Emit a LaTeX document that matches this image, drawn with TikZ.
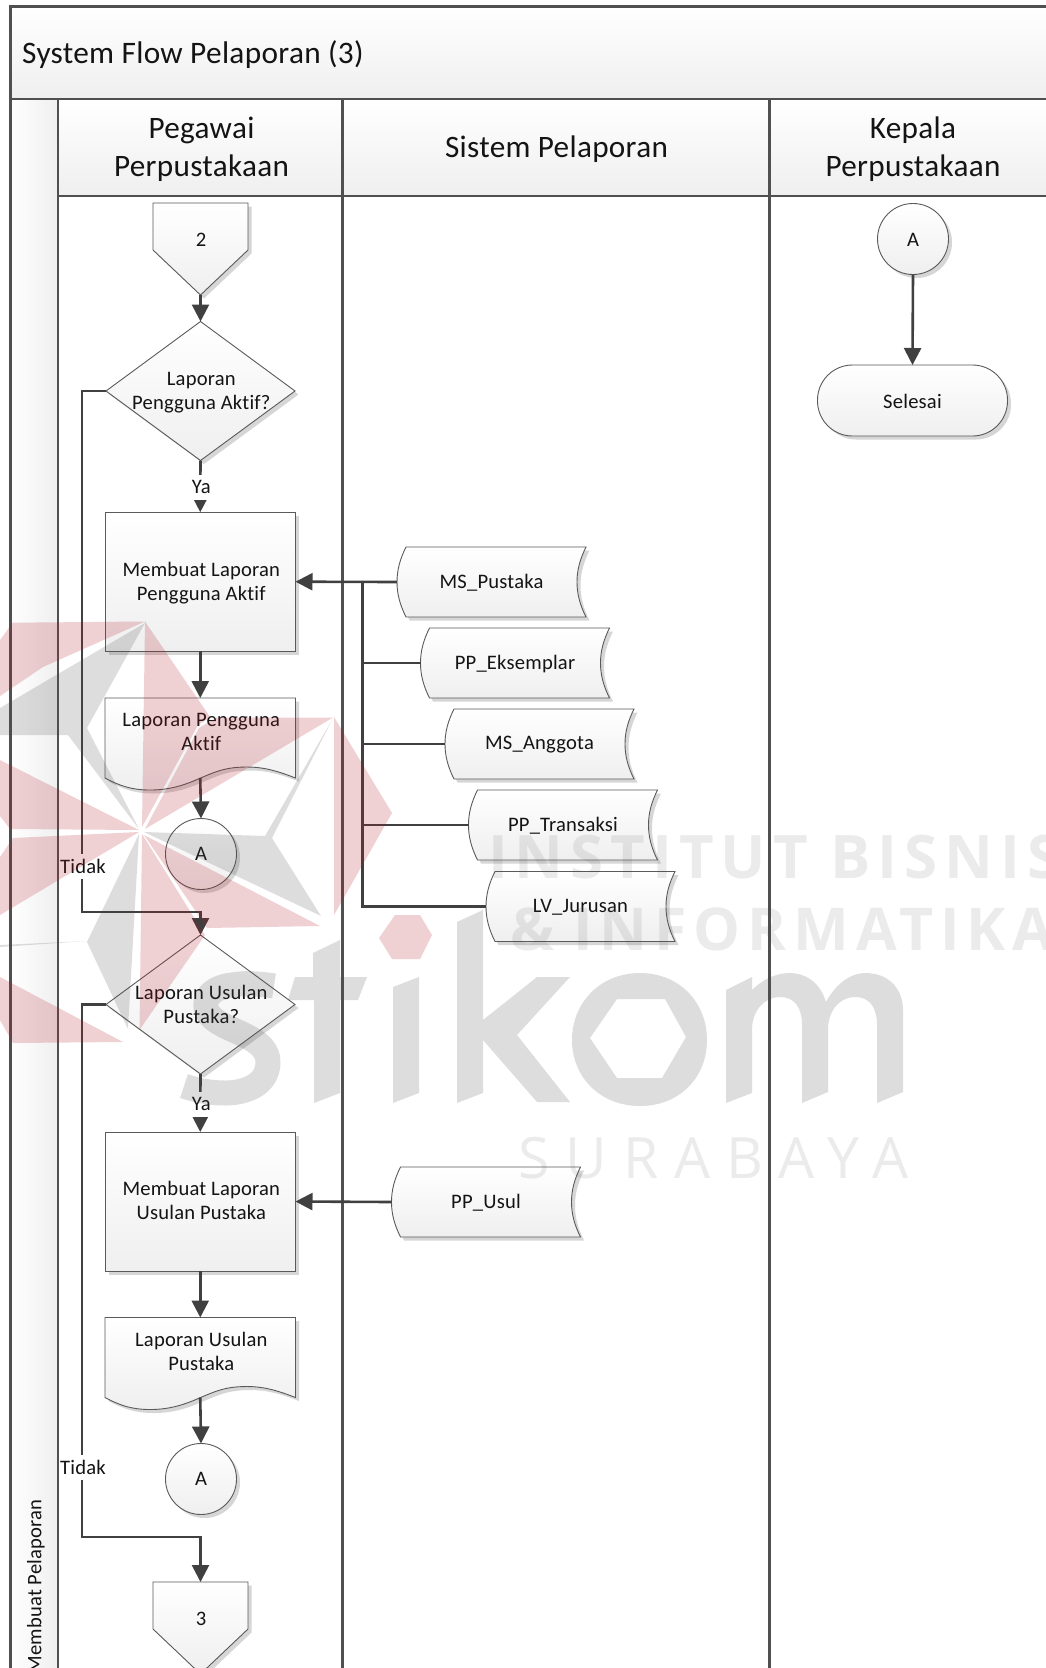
\documentclass[tikz,border=0pt]{standalone}
\usepackage{fontspec}
\setmainfont[Ligatures=NoCommon,LetterSpace=1]{Carlito}
\newfontfamily\wmbold[LetterSpace=11.6]{Open Sans Bold}
\newfontfamily\wmthin[LetterSpace=28.3]{Open Sans}
\usetikzlibrary{shapes.geometric,arrows.meta,shadows}
\definecolor{lanecol}{HTML}{505050}
\definecolor{nodeline}{HTML}{5A5A5A}
\definecolor{conncol}{HTML}{404040}
\definecolor{shadecol}{HTML}{EFEFEF}
\definecolor{wmred}{rgb}{0.70,0.10,0.16}
\definecolor{wmgray}{rgb}{0.30,0.30,0.30}
\tikzset{
  lanebar/.style={draw=lanecol,line width=2.2pt,top color=white,bottom color=shadecol,inner sep=0pt,outer sep=0pt},
  headtext/.style={inner sep=0pt,outer sep=0pt,font=\fontsize{31.2}{37.8}\selectfont,align=center,text=black!92},
  laneline/.style={draw=lanecol,line width=2.2pt},
  softshadow/.style={general shadow={shadow xshift=3.5pt,shadow yshift=-3.5pt,fill=black!16}},
  nodebody/.style={draw=nodeline,line width=0.9pt,top color=white,bottom color=shadecol,softshadow},
  shapebox/.style={inner sep=0pt,outer sep=0pt},
  plainbox/.style={inner sep=0pt,outer sep=0pt,font=\fontsize{20.6}{24.4}\selectfont,align=center,text=black!92},
  procbox/.style={shapebox,nodebody,rectangle,minimum width=190.5pt,minimum height=139pt},
  decbox/.style={shapebox,nodebody,diamond,aspect=1.36,minimum width=189pt,minimum height=139pt},
  connbox/.style={shapebox,nodebody,circle,minimum size=71pt},
  termbox/.style={shapebox,nodebody,rectangle,rounded corners=35pt,minimum width=190pt,minimum height=71pt},
  conn/.style={draw=conncol,line width=2.6pt},
  flowarrow/.style={conn,-{Triangle[length=17pt,width=17pt]}},
  edgelabel/.style={fill=white,inner sep=1pt,outer sep=0pt,minimum height=25pt,font=\fontsize{20.6}{24}\selectfont,text=black!92},
  wmr/.style={fill=wmred,fill opacity=.2,draw=none},
  wmg/.style={fill=wmgray,fill opacity=.19,draw=none}
}
\newcommand{\dstore}[4]{%
  \path[nodebody] ({#2+9},#3) -- ({#2+189},#3)
    .. controls ({#2+183},{#3+12}) and ({#2+180},{#3+23}) .. ({#2+180},{#3+35})
    .. controls ({#2+180},{#3+47}) and ({#2+183},{#3+58}) .. ({#2+189},{#3+70})
    -- ({#2+9},{#3+70})
    .. controls ({#2+3},{#3+58}) and (#2,{#3+47}) .. (#2,{#3+35})
    .. controls (#2,{#3+23}) and ({#2+3},{#3+12}) .. ({#2+9},#3) -- cycle;
  \node[shapebox,minimum width=189pt,minimum height=70pt] (#1) at ({#2+94.5},{#3+35}) {};
  \node[plainbox] (#1t) at ({#2+94.5},{#3+36}) {#4};}
\newcommand{\docshape}[3]{%
  \path[nodebody] (105,#2) -- (295.5,#2) -- (295.5,{#2+80})
    .. controls (275,{#2+72}) and (262,{#2+69}) .. (247,{#2+69})
    .. controls (225,{#2+69}) and (215,{#2+74}) .. (200.5,{#2+80})
    .. controls (185,{#2+87}) and (170,{#2+92}) .. (150,{#2+92})
    .. controls (132,{#2+92}) and (120,{#2+88}) .. (105,{#2+80}) -- cycle;
  \node[shapebox,minimum width=190.5pt,minimum height=80pt] (#1) at (200.25,{#2+40}) {};
  \node[plainbox] (#1t) at (201.3,{#2+34}) {#3};}
\newcommand{\offpage}[3]{%
  \path[nodebody] (153,#2) -- (248,#2) -- (248,{#2+47}) -- (200.5,{#2+92}) -- (153,{#2+47}) -- cycle;
  \node[shapebox,minimum width=95pt,minimum height=92pt] (#1) at (200.5,{#2+46}) {};
  \node[plainbox] (#1t) at (201,{#2+36.5}) {#3};}
\begin{document}
\begin{tikzpicture}[x=1pt,y=-1pt]
\useasboundingbox (0,0) rectangle (1046,1668);
\clip (0,0) rectangle (1046,1668);
\fill[white] (0,0) rectangle (1046,1668);
% pool
\path[draw=lanecol,line width=2.2pt,left color=white,right color=shadecol] (10.5,99) rectangle (58,1690);
\node[lanebar,anchor=north west,minimum width=1060pt,minimum height=92.5pt] (pool) at (10.5,6.5) {};
\node[anchor=west,inner sep=0pt,font=\fontsize{31.3}{37}\selectfont,text=black!92] (title) at (22,55) {System Flow Pelaporan (3)};
\node[lanebar,anchor=north west,minimum width=284.5pt,minimum height=97pt] (laneA) at (58,99) {};
\node[headtext] (laneAt) at (201.5,149.5) {Pegawai\\Perpustakaan};
\node[lanebar,anchor=north west,minimum width=427pt,minimum height=97pt] (laneB) at (342.5,99) {};
\node[headtext] (laneBt) at (556.5,149.5) {Sistem Pelaporan};
\node[lanebar,anchor=north west,minimum width=300pt,minimum height=97pt] (laneC) at (769.5,99) {};
\node[headtext] (laneCt) at (913,149.5) {Kepala\\Perpustakaan};
\draw[laneline] (laneA.south east) -- (342.5,1690);
\draw[laneline] (laneB.south east) -- (769.5,1690);
\draw[laneline] (58,196) -- (58,1690);
\node[rotate=90,anchor=east,inner sep=0pt,font=\fontsize{20.6}{24}\selectfont,text=black!92] (poolname) at (36,1499) {Membuat Pelaporan};
% nodes
\offpage{offA}{203}{2}
\node[decbox] (dec1) at (200.5,391) {};
\node[plainbox] (dec1t) at (201.3,392.6) {Laporan\\Pengguna Aktif?};
\node[procbox] (proc1) at (200.25,581.7) {};
\node[plainbox] (proc1t) at (201.3,583.3) {Membuat Laporan\\Pengguna Aktif};
\docshape{doc1}{698}{Laporan Pengguna\\Aktif}
\node[connbox] (conA1) at (201,854) {};
\node[plainbox] (conA1t) at (201,854) {A};
\node[decbox] (dec2) at (200.5,1004.5) {};
\node[plainbox] (dec2t) at (201.3,1004.3) {Laporan Usulan\\Pustaka?};
\node[procbox] (proc2) at (200.25,1201.5) {};
\node[plainbox] (proc2t) at (201.3,1200.6) {Membuat Laporan\\Usulan Pustaka};
\docshape{doc2}{1317.5}{Laporan Usulan\\Pustaka}
\node[connbox] (conA2) at (201,1479) {};
\node[plainbox] (conA2t) at (201,1479) {A};
\offpage{offB}{1582}{3}
\node[connbox] (conA3) at (913,239) {};
\node[plainbox] (conA3t) at (913,239.4) {A};
\node[termbox] (stop) at (912.5,400.5) {};
\node[plainbox] (stopt) at (912.5,401.5) {Selesai};
\dstore{ms1}{397}{547}{MS\_Pustaka}
\dstore{ms2}{420.5}{628}{PP\_Eksemplar}
\dstore{ms3}{445}{709}{MS\_Anggota}
\dstore{ms4}{468.5}{790}{PP\_Transaksi}
\dstore{ms5}{486}{871.5}{LV\_Jurusan}
\dstore{ms6}{391.5}{1167}{PP\_Usul}
% connectors
\coordinate (bus) at (362.5,582);
\coordinate (bendA) at (82,912);
\coordinate (bendB) at (82,1537);
\draw[flowarrow] (offA.south) -- (dec1.north);
\draw[flowarrow] (dec1.south) -- node[edgelabel,xshift=1pt,yshift=-1pt] (ya1) {Ya} (proc1.north);
\draw[flowarrow] (proc1.south) -- (doc1.north);
\draw[flowarrow] (doc1.south) -- (conA1.north);
\draw[flowarrow] (dec1.west) -| (bendA) -| (dec2.north);
\node[edgelabel] (tidak1) at (83,866) {Tidak};
\draw[flowarrow] (dec2.south) -- node[edgelabel,xshift=1pt,yshift=-1pt] (ya2) {Ya} (proc2.north);
\draw[flowarrow] (proc2.south) -- (doc2.north);
\draw[flowarrow] (doc2.south) -- (conA2.north);
\draw[flowarrow] (dec2.west) -| (bendB) -| (offB.north);
\node[edgelabel] (tidak2) at (83,1467) {Tidak};
\draw[flowarrow] (ms1.west) -- (proc1.east);
\draw[flowarrow] (ms6.west) -- (proc2.east);
\draw[conn] (ms2.west) -- (ms2.west -| bus);
\draw[conn] (ms3.west) -- (ms3.west -| bus);
\draw[conn] (ms4.west) -- (ms4.west -| bus);
\draw[conn] (ms5.west) -| (bus);
\draw[flowarrow] (conA3.south) -- (stop.north);
% watermark
\fill[wmr] (145,621.5) -- (12.7,622.7) -- (0,640) -- (0,696) -- (43,667) -- cycle;
\fill[wmg] (145,623) -- (0,708) -- (0,735) -- (68,735) -- (139,829) -- (87,728) -- cycle;
\fill[wmr] (139,830) -- (0,760) -- (0,816) -- (10,829) -- cycle;
\fill[wmr] (139,832) -- (13,838) -- (0,857) -- (0,915) -- cycle;
\fill[wmg] (139,834) -- (87,942) -- (128,1029) -- cycle;
\fill[wmg] (87,941) -- (0,945) -- (0,947) -- cycle;
\fill[wmr] (142,834) -- (139.5,1030) -- (205,935) -- cycle;
\fill[wmr] (144,835) -- (207,928) -- (320,926) -- cycle;
\fill[wmg] (144,832) -- (265,836) -- (332,720) -- (272,838) -- (321,916) -- cycle;
\fill[wmr] (145,829) -- (333,717.5) -- (217,717.5) -- (199,728) -- cycle;
\fill[wmr] (145,621.5) -- (142,827) -- (198,725) -- (210,717) -- cycle;
\fill[wmr] (334,717) -- (392,813) -- (334,915) -- cycle;
\fill[wmr] (0,977) -- (123,1042) -- (13,1043) -- (0,1020) -- cycle;
\fill[wmr] (395,915) -- (420,915) -- (432,935) -- (420,959) -- (392,959) -- (379,938) -- cycle;
% stikom
\draw[draw=wmgray,draw opacity=.19,line width=25pt,line cap=butt,line join=round]
  (274,986) .. controls (255,983) and (245,983) .. (232,985) .. controls (205,988) and (198,1008) .. (215,1020)
  .. controls (230,1032) and (268,1038) .. (268,1062) .. controls (268,1085) and (245,1093) .. (225,1093)
  .. controls (212,1093) and (198,1091) .. (184,1086);
\fill[wmg] (313,953) -- (340,940) -- (340,977) -- (367,977) -- (358,1000) -- (340,1000) -- (340,1093) -- (314,1103) -- (314,1000) -- (288,1000) -- (295,977) -- (313,977) -- cycle;
\fill[wmg] (393,987) -- (419,977) -- (419,1093) -- (393,1103) -- cycle;
\fill[wmg] (457,922) -- (483,910) -- (483,1020) -- (537,977) -- (570,977) -- (517,1035) -- (570,1102) -- (537,1102) -- (483,1040) -- (483,1093) -- (457,1103) -- cycle;
\fill[wmg,even odd rule] (640,973) .. controls (680,973) and (707,1003) .. (707,1040) .. controls (707,1077) and (680,1106) .. (640,1106) .. controls (600,1106) and (572,1077) .. (572,1040) .. controls (572,1003) and (600,973) .. (640,973) -- cycle
  (617,999) -- (665,999) -- (686,1037) -- (662,1078) -- (617,1078) -- (590,1038) -- cycle;
\fill[wmg] (726,990) -- (752,977) -- (752,990) .. controls (762,980) and (775,973) .. (790,973) .. controls (805,973) and (820,982) .. (826,1002) .. controls (835,985) and (850,973) .. (865,973) .. controls (890,973) and (903,990) .. (903,1010) -- (903,1092) -- (877,1103) -- (877,1025) .. controls (877,1008) and (870,997) .. (855,997) .. controls (840,997) and (828,1010) .. (828,1030) -- (828,1092) -- (802,1103) -- (802,1025) .. controls (802,1008) and (795,997) .. (780,997) .. controls (765,997) and (752,1010) .. (752,1030) -- (752,1093) -- (726,1103) -- cycle;
\node[anchor=base west,inner sep=0pt,text=wmgray,text opacity=.11,font=\wmbold\fontsize{60}{60}\selectfont] (wm1) at (488,878) {INSTITUT BISNIS};
\node[anchor=base west,inner sep=0pt,text=wmgray,text opacity=.11,font=\wmbold\fontsize{59}{59}\selectfont] (wm2) at (510,950) {\&\ \kern-3pt INFORMATIKA};
\node[anchor=base west,inner sep=0pt,text=wmgray,text opacity=.11,font=\wmthin\fontsize{57}{57}\selectfont] (wm3) at (518,1178) {SURABAYA};
\end{tikzpicture}
\end{document}
